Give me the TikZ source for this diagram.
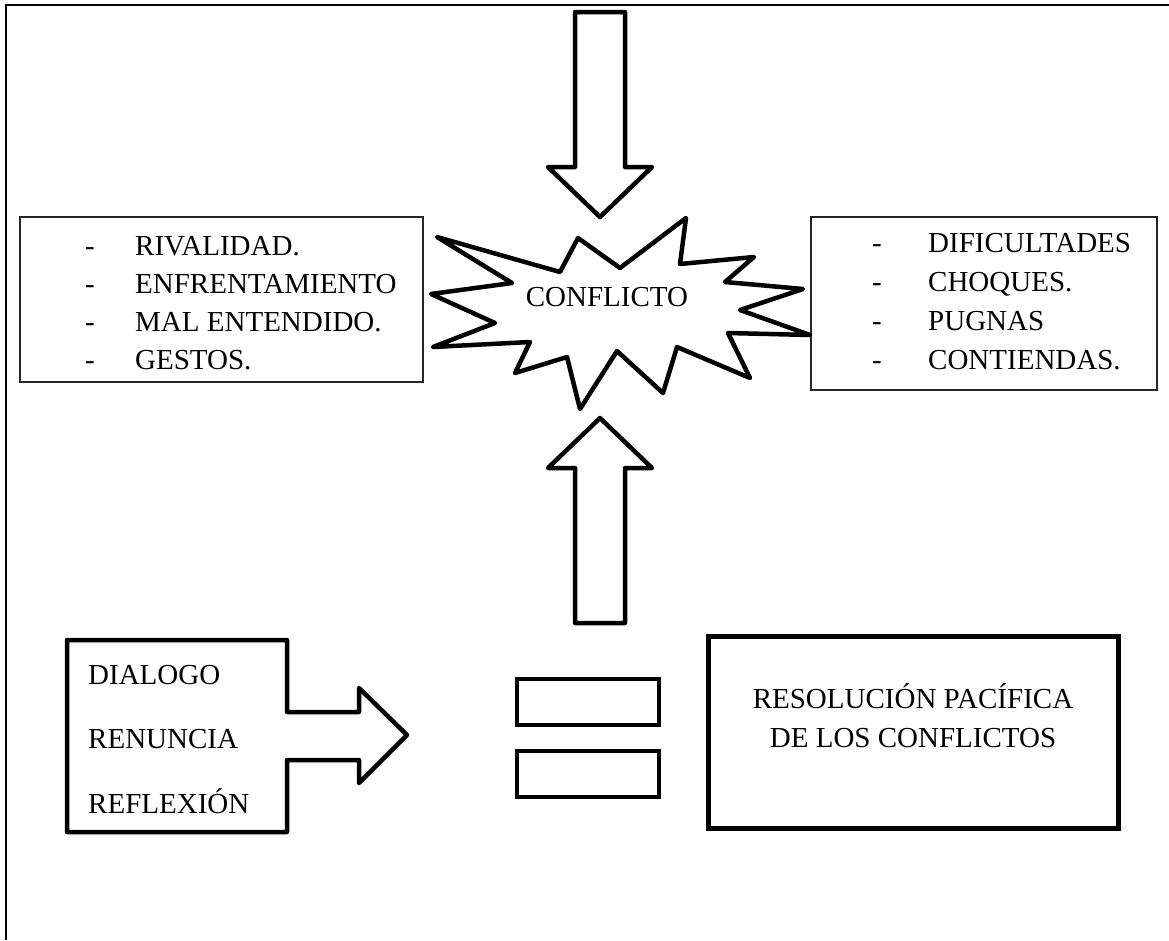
\documentclass[tikz,border=0pt]{standalone}
\usepackage{fontspec}
\setmainfont{Liberation Serif}
\begin{document}
\begin{tikzpicture}[x=1pt,y=-1pt,
  txt/.style={font=\fontsize{29}{34}\selectfont, inner sep=0pt},
  lbl/.style={txt, anchor=base west},
  dashmark/.style={txt, anchor=base},
  thinbox/.style={draw=black!85, line width=1.4pt},
  heavy/.style={draw=black, line width=4.5pt, line join=round},
  bar/.style={draw=black, line width=4.5pt, line join=miter}]
\useasboundingbox (0,0) rectangle (1169,940);

% page frame (top and left edges)
\draw[line width=2pt] (6,940) -- (6,5) -- (1169,5);

% list boxes on either side
\draw[thinbox] (20,217) rectangle (423,382);
\draw[thinbox] (811,217) rectangle (1157,390);

% left list
\foreach \name/\word/\yb in {la/RIVALIDAD./255, lb/ENFRENTAMIENTO/293, lc/MAL ENTENDIDO./331, ld/GESTOS./369}{
  \node[dashmark] (\name-dash) at (90,\yb) {-};
  \node[lbl] (\name) at (135,\yb) {\word};
}
% right list
\foreach \name/\word/\yb in {ra/DIFICULTADES/252, rb/CHOQUES./291, rc/PUGNAS/330, rd/CONTIENDAS./369}{
  \node[dashmark] (\name-dash) at (877,\yb) {-};
  \node[lbl] (\name) at (928,\yb) {\word};
}

% burst around the central word
\draw[heavy, fill=white]
  (578,238) -- (620,268) -- (686,218) -- (680,264) -- (754,257) -- (725,282)
  -- (803,289) -- (740,310) -- (810,335) -- (728,333) -- (750,378) -- (677,347)
  -- (663,393) -- (617,351) -- (580,409) -- (567,357) -- (515,373) -- (530,342)
  -- (433,347) -- (495,323) -- (431,294) -- (512,283) -- (437,237) -- (560,272)
  -- cycle;
\node[txt] (conflicto) at (607,297) {CONFLICTO};

% block arrow pointing down onto the burst
\draw[heavy] (575,12) -- (625,12) -- (625,167) -- (652,167) -- (600,217)
  -- (548,167) -- (575,167) -- cycle;

% block arrow pointing up at the burst
\draw[heavy] (575,623) -- (625,623) -- (625,468) -- (652,468) -- (600,418)
  -- (548,468) -- (575,468) -- cycle;

% callout box with arrow to the right
\draw[heavy] (67,640) -- (287,640) -- (287,712) -- (359,712) -- (359,688)
  -- (407,735) -- (359,783) -- (359,760) -- (287,760) -- (287,832)
  -- (67,832) -- cycle;
\node[lbl] (dialogo) at (88,684) {DIALOGO};
\node[lbl] (renuncia) at (88,748) {RENUNCIA};
\node[lbl] (reflexion) at (88,813) {REFLEXIÓN};

% equals sign
\draw[bar] (517,679) rectangle (659,725);
\draw[bar] (517,751) rectangle (659,797);

% result box
\draw[draw=black, line width=5pt] (708,636) rectangle (1118,828);
\node[txt, anchor=base] (res1) at (913,708) {RESOLUCIÓN PACÍFICA};
\node[txt, anchor=base] (res2) at (913,747) {DE LOS CONFLICTOS};
\end{tikzpicture}
\end{document}
